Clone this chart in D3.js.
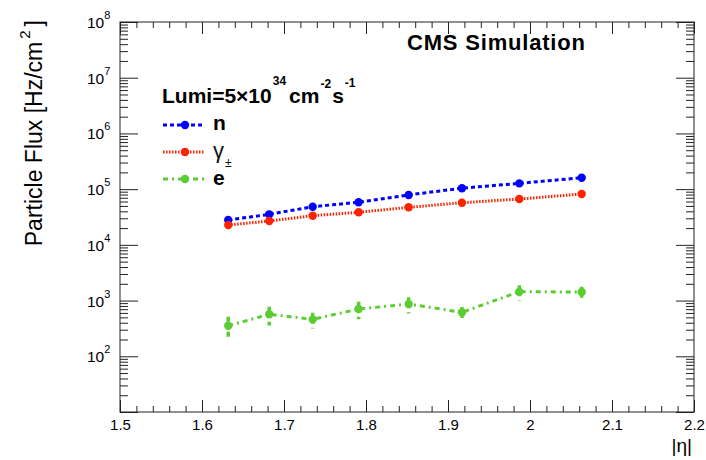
<!DOCTYPE html>
<html>
<head>
<meta charset="utf-8">
<script src="https://cdn.jsdelivr.net/npm/d3@7"></script>
<style>
  body { margin: 0; background: #fff; }
  svg { display: block; font-family: "Liberation Sans", Arial, Helvetica, sans-serif; }
</style>
</head>
<body>
<div id="chart"></div>
<script>
// Data
const etaBins = [1.632, 1.682, 1.735, 1.791, 1.852, 1.917, 1.987, 2.063];
const neutronFlux = [2.79e4, 3.53e4, 4.84e4, 5.81e4, 7.86e4, 1.04e5, 1.27e5, 1.60e5];
const gammaFlux = [2.27e4, 2.68e4, 3.34e4, 3.84e4, 4.72e4, 5.70e4, 6.65e4, 8.18e4];
const electronFlux = [354, 567, 460, 705, 867, 615, 1443, 1425];
const electronErr = [160, 210, 145, 245, 280, 150, 450, 340];

const xMajorTicks = [1.5, 1.6, 1.7, 1.8, 1.9, 2.0, 2.1, 2.2];
const xTickLabels = ["1.5", "1.6", "1.7", "1.8", "1.9", "2", "2.1", "2.2"];
const yDecades = [2, 3, 4, 5, 6, 7, 8];

// Layout
const width = 706, height = 460;
const frame = { left: 120, right: 694, top: 22, bottom: 412 };

const svg = d3.select("#chart").append("svg")
    .attr("width", width)
    .attr("height", height);

const x = d3.scaleLinear().domain([1.5, 2.2]).range([frame.left, frame.right]);
const y = d3.scaleLog().domain([10, 1e8]).range([frame.bottom, frame.top]);

// minor ticks
const xMinor = d3.range(0, 36).map(i => +(1.5 + i * 0.02).toFixed(2))
    .filter(v => !xMajorTicks.some(m => Math.abs(m - v) < 1e-6));
const yMajor = d3.range(1, 9).map(k => Math.pow(10, k));
const yMinor = [];
for (let k = 1; k < 8; k++) {
    for (let m = 2; m <= 9; m++) yMinor.push(m * Math.pow(10, k));
}

function styleAxis(g) {
    g.select(".domain").remove();
    g.selectAll(".tick line").attr("stroke", "#222").attr("stroke-width", 1);
}

// bottom axis
svg.append("g")
    .attr("transform", `translate(0,${frame.bottom})`)
    .call(d3.axisBottom(x).tickValues(xMajorTicks).tickSize(-12).tickPadding(7)
        .tickFormat((d, i) => xTickLabels[i]))
    .call(styleAxis)
    .call(g => g.selectAll("text").attr("font-size", 15).attr("fill", "#000")
        .attr("font-family", "Liberation Sans, Arial, sans-serif"));
svg.append("g")
    .attr("transform", `translate(0,${frame.bottom})`)
    .call(d3.axisBottom(x).tickValues(xMinor).tickSize(-6).tickFormat(""))
    .call(styleAxis);

// top axis
svg.append("g")
    .attr("transform", `translate(0,${frame.top})`)
    .call(d3.axisTop(x).tickValues(xMajorTicks).tickSize(-12).tickFormat(""))
    .call(styleAxis);
svg.append("g")
    .attr("transform", `translate(0,${frame.top})`)
    .call(d3.axisTop(x).tickValues(xMinor).tickSize(-6).tickFormat(""))
    .call(styleAxis);

// left and right axes
svg.append("g")
    .attr("transform", `translate(${frame.left},0)`)
    .call(d3.axisLeft(y).tickValues(yMajor).tickSize(-18).tickFormat(""))
    .call(styleAxis);
svg.append("g")
    .attr("transform", `translate(${frame.left},0)`)
    .call(d3.axisLeft(y).tickValues(yMinor).tickSize(-8).tickFormat(""))
    .call(styleAxis);
svg.append("g")
    .attr("transform", `translate(${frame.right},0)`)
    .call(d3.axisRight(y).tickValues(yMajor).tickSize(-18).tickFormat(""))
    .call(styleAxis);
svg.append("g")
    .attr("transform", `translate(${frame.right},0)`)
    .call(d3.axisRight(y).tickValues(yMinor).tickSize(-8).tickFormat(""))
    .call(styleAxis);

// frame
svg.append("rect")
    .attr("x", frame.left).attr("y", frame.top)
    .attr("width", frame.right - frame.left)
    .attr("height", frame.bottom - frame.top)
    .attr("fill", "none").attr("stroke", "#222").attr("stroke-width", 1);

// y tick labels 10^k
const yLabels = svg.append("g").attr("font-size", 15.5).attr("fill", "#000");
yDecades.forEach(k => {
    const t = yLabels.append("text")
        .attr("x", 87)
        .attr("y", y(Math.pow(10, k)) + 6);
    t.append("tspan").text("10");
    t.append("tspan").attr("font-size", 11).attr("dy", -9).text(k);
});

// axis titles
svg.append("text")
    .attr("transform", `translate(42,20) rotate(-90)`)
    .attr("text-anchor", "end")
    .attr("font-size", 23)
    .attr("fill", "#000")
    .call(t => {
        t.append("tspan").text("Particle Flux [Hz/cm");
        t.append("tspan").attr("font-size", 15).attr("dy", -12).attr("dx", 3).text("2");
        t.append("tspan").attr("dy", 12).attr("dx", 4).text("]");
    });

svg.append("text")
    .attr("x", frame.right - 2)
    .attr("y", 452)
    .attr("text-anchor", "end")
    .attr("font-size", 19)
    .attr("fill", "#000")
    .text("|η|");

// series
const series = [
    { name: "n", values: neutronFlux, color: "#0000ff", dash: "4,3" },
    { name: "γ", values: gammaFlux, color: "#ff2200", dash: "1.5,1.5" },
    { name: "e", values: electronFlux, color: "#5ccc33", dash: "5,4,2,4", err: electronErr }
];

const line = d3.line().x(d => x(d.eta)).y(d => y(d.v));

series.forEach(s => {
    const pts = etaBins.map((eta, i) => ({ eta, v: s.values[i], e: s.err ? s.err[i] : 0 }));
    const g = svg.append("g");
    if (s.err) {
        g.selectAll(".err")
            .data(pts)
            .enter().append("line")
            .attr("x1", d => x(d.eta)).attr("x2", d => x(d.eta))
            .attr("y1", d => y(d.v + d.e)).attr("y2", d => y(d.v - d.e))
            .attr("stroke", s.color).attr("stroke-width", 3.5)
            .attr("stroke-dasharray", s.dash);
    }
    g.append("path")
        .datum(pts)
        .attr("d", line)
        .attr("fill", "none")
        .attr("stroke", s.color)
        .attr("stroke-width", 3)
        .attr("stroke-dasharray", s.dash);
    g.selectAll("circle")
        .data(pts)
        .enter().append("circle")
        .attr("cx", d => x(d.eta)).attr("cy", d => y(d.v))
        .attr("r", 4.2)
        .attr("fill", s.color);
});

// CMS label
svg.append("text")
    .attr("x", 407).attr("y", 50)
    .attr("font-size", 22).attr("font-weight", "bold")
    .attr("textLength", 178).attr("lengthAdjust", "spacing")
    .attr("fill", "#000")
    .text("CMS Simulation");

// Lumi label
svg.append("text")
    .attr("x", 162).attr("y", 103)
    .attr("font-size", 21).attr("font-weight", "bold").attr("fill", "#000")
    .call(t => {
        t.append("tspan").text("Lumi=5×10");
        t.append("tspan").attr("font-size", 12).attr("dx", 1).attr("dy", -18).text("34");
        t.append("tspan").attr("dx", 3).attr("dy", 18).text("cm");
        t.append("tspan").attr("font-size", 12).attr("dx", 1).attr("dy", -15).text("-2");
        t.append("tspan").attr("dx", 1).attr("dy", 15).text("s");
        t.append("tspan").attr("font-size", 12).attr("dx", 1).attr("dy", -16).text("-1");
    });

// legend
const legendY = [125, 152, 179];
const legend = svg.append("g");
series.forEach((s, i) => {
    const ly = legendY[i];
    legend.append("line")
        .attr("x1", 163).attr("x2", 205).attr("y1", ly).attr("y2", ly)
        .attr("stroke", s.color).attr("stroke-width", 3)
        .attr("stroke-dasharray", s.dash);
    legend.append("circle")
        .attr("cx", 185).attr("cy", ly).attr("r", 4.2).attr("fill", s.color);
});
legend.append("text").attr("x", 213).attr("y", 130)
    .attr("font-size", 21).attr("font-weight", "bold").text("n");
legend.append("text").attr("x", 213).attr("y", 158)
    .attr("font-size", 22).attr("fill", "#111")
    .call(t => {
        t.append("tspan").text("γ");
        t.append("tspan").attr("font-size", 12).attr("dy", 9).attr("dx", 1).text("±");
    });
legend.append("text").attr("x", 213).attr("y", 185)
    .attr("font-size", 21).attr("font-weight", "bold").text("e");
</script>
</body>
</html>
